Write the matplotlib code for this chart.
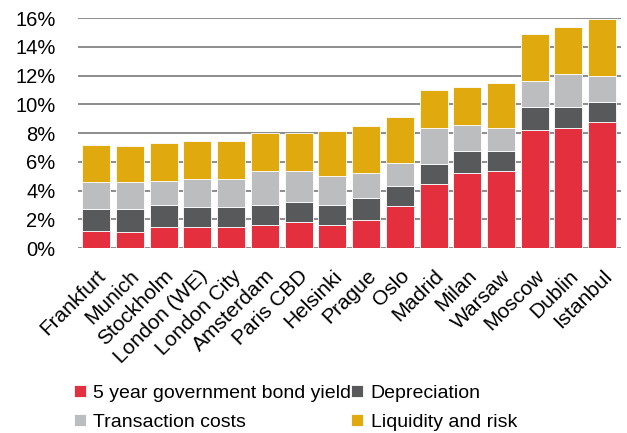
import numpy as np
import matplotlib.pyplot as plt
from matplotlib.ticker import FuncFormatter

cities = ["Frankfurt", "Munich", "Stockholm", "London (WE)", "London City",
          "Amsterdam", "Paris CBD", "Helsinki", "Prague", "Oslo", "Madrid",
          "Milan", "Warsaw", "Moscow", "Dublin", "Istanbul"]

# component values in % (stacked bottom to top)
bond_yield = [1.18, 1.15, 1.44, 1.44, 1.44, 1.58, 1.85, 1.58, 1.97, 2.90,
              4.44, 5.20, 5.35, 8.24, 8.38, 8.75]
depreciation = [1.52, 1.55, 1.55, 1.41, 1.41, 1.41, 1.39, 1.41, 1.55, 1.40,
                1.41, 1.58, 1.43, 1.55, 1.41, 1.44]
transaction = [1.88, 1.90, 1.71, 1.99, 1.99, 2.36, 2.11, 2.01, 1.68, 1.60,
               2.50, 1.82, 1.57, 1.83, 2.36, 1.81]
liquidity = [2.57, 2.50, 2.59, 2.59, 2.59, 2.64, 2.64, 3.13, 3.27, 3.24,
             2.62, 2.63, 3.13, 3.26, 3.25, 3.92]

series = [
    ("5 year government bond yield", bond_yield, "#e4303e"),
    ("Depreciation", depreciation, "#58595b"),
    ("Transaction costs", transaction, "#bcbdbf"),
    ("Liquidity and risk", liquidity, "#e0a90e"),
]

plt.rcParams["font.family"] = ["Liberation Sans", "DejaVu Sans"]

fig = plt.figure(figsize=(6.27, 4.33), dpi=100)
ax = fig.add_axes([0.124, 0.427, 0.866, 0.531])

x = np.arange(len(cities))
bottom = np.zeros(len(cities))
handles = []
for name, vals, color in series:
    h = ax.bar(x, vals, bottom=bottom, width=0.83, color=color,
               edgecolor="white", linewidth=0.6, label=name, zorder=3)
    handles.append(h)
    bottom += np.array(vals)

ax.set_ylim(0, 16)
ax.set_xlim(-0.55, len(cities) - 0.45)
ax.set_yticks(np.arange(0, 17, 2))
ax.yaxis.set_major_formatter(FuncFormatter(lambda v, p: f"{v:.0f}%"))
ax.grid(axis="y", color="#8c8c8c", linewidth=1.4, zorder=0)
for s in ax.spines.values():
    s.set_visible(False)
ax.tick_params(axis="both", length=0)
ax.tick_params(axis="y", pad=16, labelsize=14.5)

ax.set_xticks(x)
ax.set_xticklabels(cities, rotation=45, ha="right", va="top",
                   rotation_mode="anchor", fontsize=15)
ax.tick_params(axis="x", pad=13)

# legend filled row by row: bond yield, depreciation / transaction, liquidity
order = [0, 2, 1, 3]
fig.legend(handles=[handles[i] for i in order], loc="lower left",
           bbox_to_anchor=(0.09, -0.035), ncol=2, frameon=False,
           fontsize=14, handlelength=0.6, handleheight=0.6,
           handletextpad=0.4, columnspacing=0.0, labelspacing=0.6)

fig.savefig("out.png", dpi=100)
